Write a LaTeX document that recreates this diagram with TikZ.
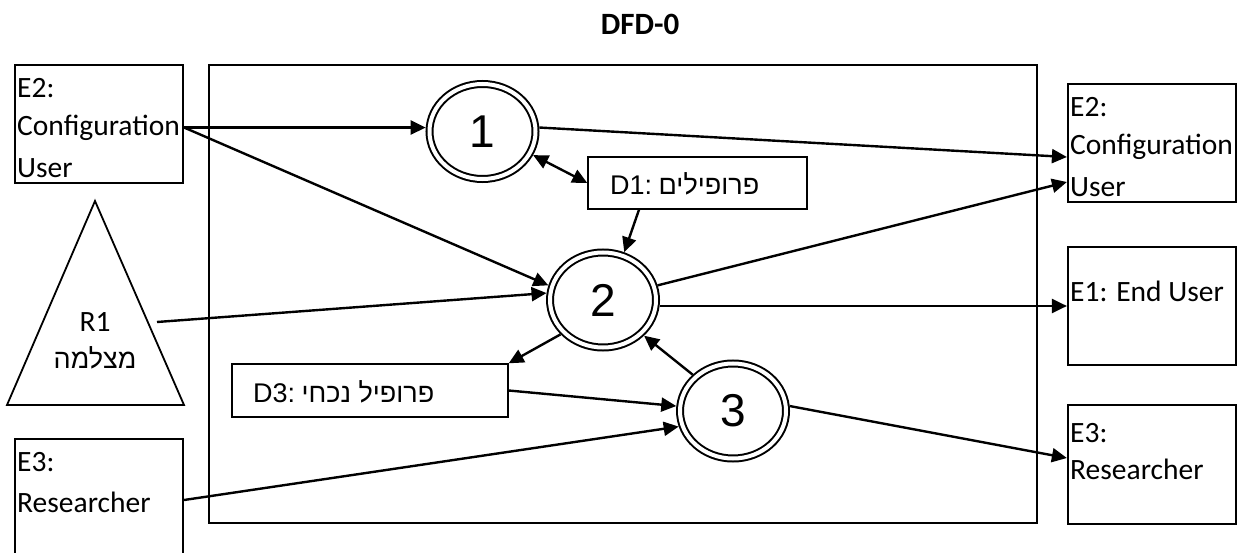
\documentclass[tikz,border=0pt]{standalone}
\usepackage{fontspec}
\setmainfont{Carlito}
\newfontfamily\hebfont[Script=Hebrew]{Liberation Sans}
\newfontfamily\numfont{Liberation Sans}
\usetikzlibrary{shapes.geometric,arrows.meta,calc}
\TeXXeTstate=1
\begin{document}
\begin{tikzpicture}[x=1pt,y=-1pt,
  ent/.style={draw, line width=2.2pt, rectangle, inner sep=0pt},
  store/.style={draw, line width=1.4pt, rectangle, inner sep=0pt},
  proc/.style={draw, shape=ellipse, double, line width=2pt, double distance=4pt,
    minimum width=106pt, minimum height=95pt, inner sep=0pt, outer sep=4pt,
    font=\numfont\fontsize{46}{50}\selectfont},
  lbl/.style={anchor=west, inner sep=0pt, text height=19pt, text depth=0pt,
    font=\fontsize{29.5}{35}\selectfont},
  heb/.style={inner sep=0pt, font=\hebfont\fontsize{27}{32}\selectfont},
  flow/.style={line width=2.4pt, -{Triangle[length=15pt,width=14pt]}},
  flow2/.style={line width=2.4pt, {Triangle[length=15pt,width=14pt]}-{Triangle[length=15pt,width=14pt]}},
]
\useasboundingbox (0,0) rectangle (1239,553);

\node[font=\bfseries\fontsize{31}{36}\selectfont, inner sep=0pt] (title) at (640,24) {DFD-0};

% system boundary
\node[ent, minimum width=828pt, minimum height=458pt] (sys) at (623,294) {};

% external entities
\node[ent, minimum width=168pt, minimum height=118pt] (E2L) at (99,124) {};
\node[ent, minimum width=168pt, minimum height=118pt] (E2R) at (1152,143) {};
\node[ent, minimum width=168pt, minimum height=118pt] (E1) at (1152,306) {};
\node[ent, minimum width=168pt, minimum height=119pt] (E3R) at (1152,464.5) {};
\node[ent, minimum width=168pt, minimum height=122pt] (E3L) at (99,500) {};

% resource triangle
\draw[line width=1.8pt, line join=miter] (95,201) -- (7,405) -- (184,405) -- cycle;
\coordinate (r1out) at (157,322);

% data stores
\node[store, minimum width=219pt, minimum height=52pt] (D1) at (697.5,183) {};
\node[store, minimum width=276pt, minimum height=53pt] (D3) at (370,390.5) {};

% processes
\node[proc] (c1) at (482.5,131.5) {1};
\node[proc] (c2) at (603,300) {2};
\node[proc] (c3) at (733,411) {3};

% texts
\node[lbl] (t1) at (17,88) {E2:};
\node[lbl] (t2) at (17,126) {Configuration};
\node[lbl] (t3) at (17,168) {User};
\node[lbl] (t4) at (1070,107) {E2:};
\node[lbl] (t5) at (1070,145) {Configuration};
\node[lbl] (t6) at (1070,187) {User};
\node[lbl] (t7) at (1070,292) {E1: End User};
\node[lbl] (t8) at (1070,433) {E3:};
\node[lbl] (t9) at (1070,470) {Researcher};
\node[lbl] (t10) at (17,462) {E3:};
\node[lbl] (t11) at (17,503) {Researcher};
\node[lbl, anchor=center] (t12) at (95,322) {R1};
\node[heb] (t13) at (95,358) {\beginR מצלמה\endR};
\node[heb, anchor=west] (t14) at (610,184) {D1:\kern6.5pt\beginR פרופילים\endR};
\node[heb, anchor=west] (t15) at (253,392) {D3:\kern6.5pt\beginR פרופיל נכחי\endR};

% flows
\draw[flow] (E2L.east |- c1.176) -- (c1.176);
\draw[flow] (E2L.east |- c1.176) -- (c2.165);
\draw[flow] (r1out) -- (c2.173);
\draw[flow] (c1.4) -- ($(E2R.west)+(0,14)$);
\draw[flow2] (c1.335) -- (D1.west);
\draw[flow] ($(D1.south)+(-58.5,0)$) -- (c2.66);
\draw[flow] (c2.15) -- ($(E2R.west)+(0,39)$);
\draw[flow] (c2.east |- E1.west) -- (E1.west);
\draw[flow] (c2.219) -- (D3.north east);
\draw[flow] (D3.east) -- (c3.175);
\draw[flow] (E3L.east) -- (c3.196);
\draw[flow] (c3.138) -- (c2.319);
\draw[flow] (c3.5) -- ($(E3R.west)+(0,-6.5)$);
\end{tikzpicture}
\end{document}
